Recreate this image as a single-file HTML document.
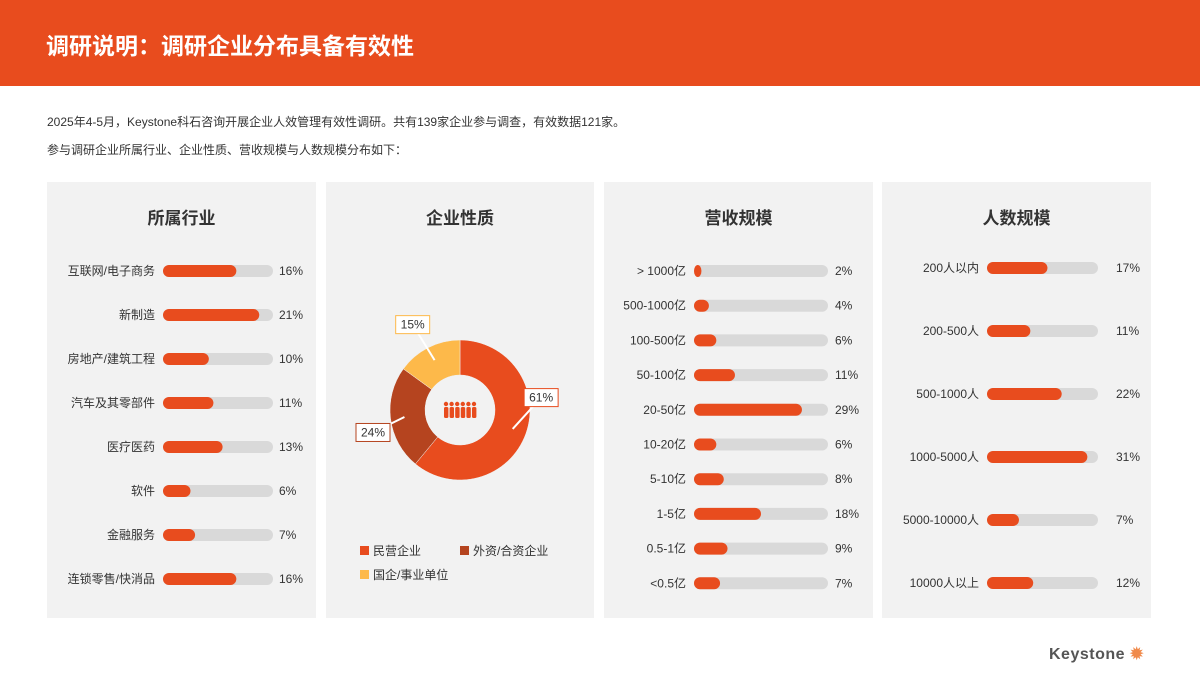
<!DOCTYPE html>
<html><head><meta charset="utf-8">
<style>
body{margin:0;width:1200px;height:675px;background:#fff;font-family:"Liberation Sans","Noto Sans CJK SC",sans-serif;position:relative;overflow:hidden}
.hdr{position:absolute;left:0;top:0;width:1200px;height:86px;background:#e84c1e}
.hdr h1{margin:0;position:absolute;left:46px;top:27px;color:#fff;font-size:23px;font-weight:bold}
.intro{position:absolute;left:47px;font-size:12px;color:#333}
.panel{position:absolute;top:182px;height:436px;background:#f2f2f2}
.pt{position:absolute;top:22px;width:100%;text-align:center;font-size:17px;font-weight:bold;color:#333}
svg text{font-family:"Liberation Sans","Noto Sans CJK SC",sans-serif}
</style></head><body>
<div class="hdr"><h1>调研说明：调研企业分布具备有效性</h1></div>
<div class="intro" style="top:113px">2025年4-5月，Keystone科石咨询开展企业人效管理有效性调研。共有139家企业参与调查，有效数据121家。</div>
<div class="intro" style="top:141px">参与调研企业所属行业、企业性质、营收规模与人数规模分布如下：</div>
<div class="panel" style="left:47px;width:269px"><div class="pt">所属行业</div></div>
<div class="panel" style="left:326px;width:268px"><div class="pt">企业性质</div></div>
<div class="panel" style="left:604px;width:269px"><div class="pt">营收规模</div></div>
<div class="panel" style="left:882px;width:269px"><div class="pt">人数规模</div></div>
<svg id="chart" width="1200" height="675" style="position:absolute;left:0;top:0"></svg>
<div style="position:absolute;left:1049px;top:644px;font-size:16px;font-weight:bold;color:#555;letter-spacing:0.5px">Keystone <span style="color:#f08a4b">✹</span></div>
<script>
const indCats=["互联网/电子商务","新制造","房地产/建筑工程","汽车及其零部件","医疗医药","软件","金融服务","连锁零售/快消品"];
const indVals=[16,21,10,11,13,6,7,16];
const ownCats=["民营企业","外资/合资企业","国企/事业单位"];
const ownVals=[61,24,15];
const revCats=["> 1000亿","500-1000亿","100-500亿","50-100亿","20-50亿","10-20亿","5-10亿","1-5亿","0.5-1亿","<0.5亿"];
const revVals=[2,4,6,11,29,6,8,18,9,7];
const hcCats=["200人以内","200-500人","500-1000人","1000-5000人","5000-10000人","10000人以上"];
const hcVals=[17,11,22,31,7,12];
const NS="http://www.w3.org/2000/svg",svg=document.getElementById('chart');
function mk(t,a,p){const e=document.createElementNS(NS,t);for(const k in a)e.setAttribute(k,a[k]);(p||svg).appendChild(e);return e;}
function barGroup(cats,vals,o){
  cats.forEach((c,i)=>{
    const y=o.y0+i*o.step;
    const l=mk('text',{x:o.lx,y:y+4,'text-anchor':'end','font-size':12,fill:'#333'});l.textContent=c;
    
    
    const tr=mk('rect',{x:o.bx,y:y-6,width:o.tw,height:12,rx:6,fill:'#d9d9d9'});
    
    
    const b=mk('rect',{x:o.bx,y:y-6,width:o.scale(vals[i]),height:12,rx:6,fill:'#e84c1e'});
    
    
    const v=mk('text',{x:o.vx,y:y+4,'font-size':12,fill:'#333'});v.textContent=vals[i]+'%';
    
    
  });
}
barGroup(indCats,indVals,{key:'industry',y0:271,step:44,lx:155,bx:163,tw:110,vx:279,scale:v=>v/24*110});
barGroup(revCats,revVals,{key:'revenue',y0:271,step:34.7,lx:686,bx:694,tw:134,vx:835,scale:v=>v/36*134});
barGroup(hcCats,hcVals,{key:'headcount',y0:268,step:63,lx:979,bx:987,tw:111,vx:1116,scale:v=>12+v*2.85});
// donut
const cx=460,cy=410,R=70,r=35,cols=['#e84c1e','#b5441f','#fdb94a'];
const offs=[[10,-38],[-12,13],[-13,-18]];
let tot=ownVals.reduce((a,b)=>a+b,0),ang=0;
const p=(a,rr)=>[cx+rr*Math.sin(a),cy-rr*Math.cos(a)];
ownVals.forEach((v,i)=>{
  const a0=ang,a1=ang+v/tot*2*Math.PI;ang=a1;
  const lg=(a1-a0)>Math.PI?1:0;
  const [x0,y0]=p(a0,R),[x1,y1]=p(a1,R),[x2,y2]=p(a1,r),[x3,y3]=p(a0,r);
  const s=mk('path',{d:`M${x0},${y0}A${R},${R} 0 ${lg} 1 ${x1},${y1}L${x2},${y2}A${r},${r} 0 ${lg} 0 ${x3},${y3}Z`,fill:cols[i],stroke:'#f2f2f2','stroke-width':0.5});
  
  
});
ang=0;
ownVals.forEach((v,i)=>{
  const a0=ang,a1=ang+v/tot*2*Math.PI;ang=a1;
  const m=(a0+a1)/2,[lx,ly]=p(m,R*1.08);
  const bx=lx+offs[i][0],by=ly+offs[i][1];
  const [sx,sy]=p(m,R*0.8);
  mk('line',{x1:sx,y1:sy,x2:bx,y2:by,stroke:'#fff','stroke-width':2});
  const bg=mk('rect',{x:bx-17,y:by-9,width:34,height:18,fill:'#fff',stroke:cols[i]});
  
  
  const t=mk('text',{x:bx,y:by+4,'text-anchor':'middle','font-size':12,fill:'#333'});t.textContent=v+'%';
  
  
});
for(let k=0;k<6;k++){mk('circle',{cx:446+k*5.6,cy:404,r:2.2,fill:'#e84c1e'});mk('rect',{x:444+k*5.6,y:407,width:4.4,height:11,rx:1.5,fill:'#e84c1e'});}
const lp=[[360,551],[460,551],[360,575]];
ownCats.forEach((c,i)=>{
  const s=mk('rect',{x:lp[i][0],y:lp[i][1]-5,width:9,height:9,fill:cols[i]});
  
  
  const t=mk('text',{x:lp[i][0]+13,y:lp[i][1]+4,'font-size':12,fill:'#333'});t.textContent=c;
  
  
});
</script>
</body></html>
